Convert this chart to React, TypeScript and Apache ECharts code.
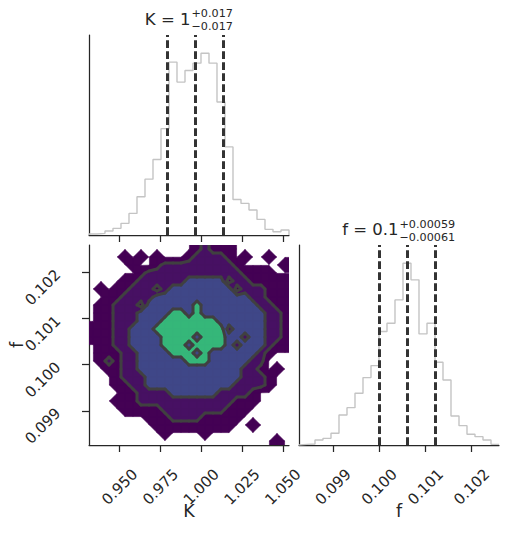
import { useEffect, useRef } from "react";
import * as echarts from "echarts";

const kRange = [0.9312, 1.0537];
const fRange = [0.09826, 0.10259];
const kTicks = [0.95, 0.975, 1.0, 1.025, 1.05];
const fTicks = [0.099, 0.1, 0.101, 0.102];
const kHistCounts = [3, 5, 12, 20, 35, 65, 115, 168, 227, 320, 520, 460, 495, 517, 547, 517, 400, 265, 107, 95, 75, 47, 17, 10, 15];
const fHistCounts = [2, 3, 15, 20, 35, 90, 112, 155, 202, 238, 340, 365, 435, 545, 495, 333, 365, 248, 195, 87, 58, 32, 25, 15, 2];
const kQuantiles = [0.979, 0.9961, 1.0133];
const fQuantiles = [0.09999, 0.100594, 0.10121];
const kTitle = { value: "K = 1", plus: "+0.017", minus: "\u22120.017" };
const fTitle = { value: "f = 0.1", plus: "+0.00059", minus: "\u22120.00061" };

// density level per grid node (row 0 = top / highest f, col 0 = left / lowest K)
const densityLevelRows = [
  "0000000000000121110000000",
  "0000101010001222210100100",
  "0000010012222222221000001",
  "0000001222222222222111100",
  "0000112222223333312211111",
  "0101122212333333331222111",
  "0011222233333333333322111",
  "0112221333333433333332211",
  "0112223333443433333333221",
  "0112223334444444333333221",
  "1112233344444444423333221",
  "1112233334444344433233221",
  "0112233334443444432333211",
  "0111223333444343333332100",
  "0121223333334443333322000",
  "0011223333333333333221010",
  "0001222333333333333222100",
  "0001122333333333332222100",
  "0000112222333333222210000",
  "0001112222222222221110000",
  "0000111112222222211100000",
  "0000000111222211111000000",
  "0000000011111111110010000",
  "0000000001000010000000000",
  "0000000000000000000000010",
];
const contourThresholds = [0.05, 1.5, 2.5, 3.5];
const fillColors = ["#440154", "#471063", "#3f4788", "#35b779"];
const contourLineColor = "#404040";

const FONT = "DejaVu Sans";
const INK = "#262626";

const N = densityLevelRows.length;
const M = densityLevelRows[0].length;
const levelGrid = densityLevelRows.map((r) => r.split("").map(Number));
const kStep = (kRange[1] - kRange[0]) / M;
const fStep = (fRange[1] - fRange[0]) / N;
const nodeK = (i: number) => kRange[0] + (i + 0.5) * kStep;
const nodeF = (j: number) => fRange[1] - (j + 0.5) * fStep;
const nodeLevel = (i: number, j: number) =>
  levelGrid[Math.min(N - 1, Math.max(0, j))][Math.min(M - 1, Math.max(0, i))];

const cellData: number[][] = [];
for (let j = -1; j < N; j++) for (let i = -1; i < M; i++) cellData.push([nodeK(i + 0.5), nodeF(j + 0.5), i, j]);

type PP = { p: number[]; c: boolean };
function bandPolygon(api: any, i: number, j: number, t: number): PP[] {
  const corners = [
    [i, j],
    [i + 1, j],
    [i + 1, j + 1],
    [i, j + 1],
  ];
  const pts = corners.map(([a, b]) => api.coord([nodeK(a), nodeF(b)]));
  const vals = corners.map(([a, b]) => nodeLevel(a, b));
  const poly: PP[] = [];
  for (let k = 0; k < 4; k++) {
    const a = pts[k], b = pts[(k + 1) % 4];
    const va = vals[k], vb = vals[(k + 1) % 4];
    if (va >= t) poly.push({ p: a, c: false });
    if (va >= t !== vb >= t) {
      const s = (t - va) / (vb - va);
      poly.push({ p: [a[0] + s * (b[0] - a[0]), a[1] + s * (b[1] - a[1])], c: true });
    }
  }
  return poly;
}

function withClip(params: any, i: number, j: number, group: any) {
  if (i >= 0 && i < M - 1 && j >= 0 && j < N - 1) return group;
  const cs = params.coordSys;
  group.clipPath = { type: "rect", shape: { x: cs.x, y: cs.y, width: cs.width, height: cs.height } };
  return group;
}

function histSteps(counts: number[], range: number[]) {
  const n = counts.length;
  const w = (range[1] - range[0]) / n;
  const pts: number[][] = [[range[0], 0]];
  counts.forEach((c, i) => pts.push([range[0] + i * w, c]));
  pts.push([range[1], counts[n - 1]]);
  pts.push([range[1], 0]);
  return pts;
}

const axisLineStyle = { color: INK, width: 1.25 };
const tickStyle = { show: true, length: 7, inside: false, lineStyle: { color: INK, width: 1.25 } };
const labelText = { color: INK, fontSize: 15, fontFamily: FONT };
const nameText = { color: INK, fontSize: 17.5, fontFamily: FONT };

function titleGraphics(t: { value: string; plus: string; minus: string }, x: number, yMain: number, ySup: number, ySub: number) {
  const small = { font: `11.2px "${FONT}"`, fill: INK, align: "left", verticalAlign: "middle", lineHeight: 10.5 };
  return [
    { type: "text", x: x - 0.5, y: yMain, style: { text: t.value, font: `16.5px "${FONT}"`, fill: INK, align: "right", verticalAlign: "middle" } },
    { type: "text", x: x + 0.5, y: ySup, style: { ...small, text: t.plus } },
    { type: "text", x: x + 0.5, y: ySub, style: { ...small, text: t.minus } },
  ];
}

function fillSeries(k: number) {
  return {
    type: "custom", xAxisIndex: 1, yAxisIndex: 1, silent: true, progressive: 0, z: 2 + k * 0.01,
    data: cellData,
    renderItem: (params: any, api: any) => {
      const i = api.value(2), j = api.value(3);
      const poly = bandPolygon(api, i, j, contourThresholds[k]);
      const children: any[] = [];
      if (poly.length >= 3)
        children.push({
          type: "polygon",
          shape: { points: poly.map((q) => q.p) },
          style: { fill: fillColors[k], stroke: fillColors[k], lineWidth: 0.6 },
        });
      return withClip(params, i, j, { type: "group", children });
    },
  };
}

export default function App() {
  const ref = useRef<HTMLDivElement>(null);
  useEffect(() => {
    document.body.style.margin = "0";
    const chart = echarts.init(ref.current!, undefined, { renderer: "svg" });
    const kYMax = Math.max(...kHistCounts) * 1.1;
    const fYMax = Math.max(...fHistCounts) * 1.1;
    const dashStyle = { color: "#333333", width: 3, type: [7.7, 3.3] as any };
    const xLabel = (ticks: number[]) => ({
      ...labelText, show: true, customValues: ticks, rotate: 45, align: "center", verticalAlign: "middle", margin: 42,
      formatter: (v: number) => v.toFixed(3),
    });
    chart.setOption({
      animation: false,
      backgroundColor: "#ffffff",
      grid: [
        { left: 89, top: 35, width: 200, height: 200 },
        { left: 89, top: 245, width: 200, height: 200 },
        { left: 299, top: 245, width: 200, height: 200 },
      ],
      xAxis: [
        {
          gridIndex: 0, type: "value", min: kRange[0], max: kRange[1],
          axisLine: { show: true, onZero: false, lineStyle: axisLineStyle },
          axisTick: { ...tickStyle, customValues: kTicks },
          axisLabel: { show: false }, splitLine: { show: false },
        },
        {
          gridIndex: 1, type: "value", min: kRange[0], max: kRange[1],
          axisLine: { show: true, onZero: false, lineStyle: axisLineStyle },
          axisTick: { ...tickStyle, customValues: kTicks },
          axisLabel: xLabel(kTicks),
          splitLine: { show: false },
          name: "K", nameLocation: "middle", nameGap: 57, nameMoveOverlap: false, nameTextStyle: nameText,
        },
        {
          gridIndex: 2, type: "value", min: fRange[0], max: fRange[1],
          axisLine: { show: true, onZero: false, lineStyle: axisLineStyle },
          axisTick: { ...tickStyle, customValues: fTicks },
          axisLabel: xLabel(fTicks),
          splitLine: { show: false },
          name: "f", nameLocation: "middle", nameGap: 57, nameMoveOverlap: false, nameTextStyle: nameText,
        },
      ],
      yAxis: [
        {
          gridIndex: 0, type: "value", min: 0, max: kYMax,
          axisLine: { show: true, onZero: false, lineStyle: axisLineStyle },
          axisTick: { show: false }, axisLabel: { show: false }, splitLine: { show: false },
        },
        {
          gridIndex: 1, type: "value", min: fRange[0], max: fRange[1],
          axisLine: { show: true, onZero: false, lineStyle: axisLineStyle },
          axisTick: { ...tickStyle, customValues: fTicks },
          axisLabel: { ...labelText, show: true, customValues: fTicks, rotate: 45, margin: 31, formatter: (v: number) => v.toFixed(3) },
          splitLine: { show: false },
          name: "f", nameLocation: "middle", nameGap: 63, nameRotate: 90, nameMoveOverlap: false, nameTextStyle: nameText,
        },
        {
          gridIndex: 2, type: "value", min: 0, max: fYMax,
          axisLine: { show: true, onZero: false, lineStyle: axisLineStyle },
          axisTick: { show: false }, axisLabel: { show: false }, splitLine: { show: false },
        },
      ],
      series: [
        {
          type: "line", xAxisIndex: 0, yAxisIndex: 0, step: "end", showSymbol: false, silent: true,
          data: histSteps(kHistCounts, kRange),
          lineStyle: { color: "#c4c4c4", width: 1.4 },
          markLine: { silent: true, precision: 10, symbol: ["none", "none"], label: { show: false }, lineStyle: dashStyle, data: kQuantiles.map((v) => ({ xAxis: v })) },
        },
        {
          type: "line", xAxisIndex: 2, yAxisIndex: 2, step: "end", showSymbol: false, silent: true,
          data: histSteps(fHistCounts, fRange),
          lineStyle: { color: "#c4c4c4", width: 1.4 },
          markLine: { silent: true, precision: 10, symbol: ["none", "none"], label: { show: false }, lineStyle: dashStyle, data: fQuantiles.map((v) => ({ xAxis: v })) },
        },
        ...contourThresholds.map((_, k) => fillSeries(k)),
        {
          type: "custom", xAxisIndex: 1, yAxisIndex: 1, silent: true, progressive: 0, z: 3,
          data: cellData,
          renderItem: (params: any, api: any) => {
            const i = api.value(2), j = api.value(3);
            const children: any[] = [];
            for (let k = 1; k < contourThresholds.length; k++) {
              const poly = bandPolygon(api, i, j, contourThresholds[k]);
              const n = poly.length;
              for (let a = 0; a < n; a++) {
                const p = poly[a], q = poly[(a + 1) % n];
                if (p.c && q.c)
                  children.push({
                    type: "line",
                    shape: { x1: p.p[0], y1: p.p[1], x2: q.p[0], y2: q.p[1] },
                    style: { stroke: contourLineColor, lineWidth: 3, lineCap: "round" },
                  });
              }
            }
            return withClip(params, i, j, { type: "group", children });
          },
        },
      ],
      graphic: [...titleGraphics(kTitle, 191, 19.5, 13.4, 26.6), ...titleGraphics(fTitle, 399, 229.6, 224.0, 237.2)],
    });
    return () => chart.dispose();
  }, []);
  return <div ref={ref} style={{ width: 509, height: 534, background: "#fff" }} />;
}
